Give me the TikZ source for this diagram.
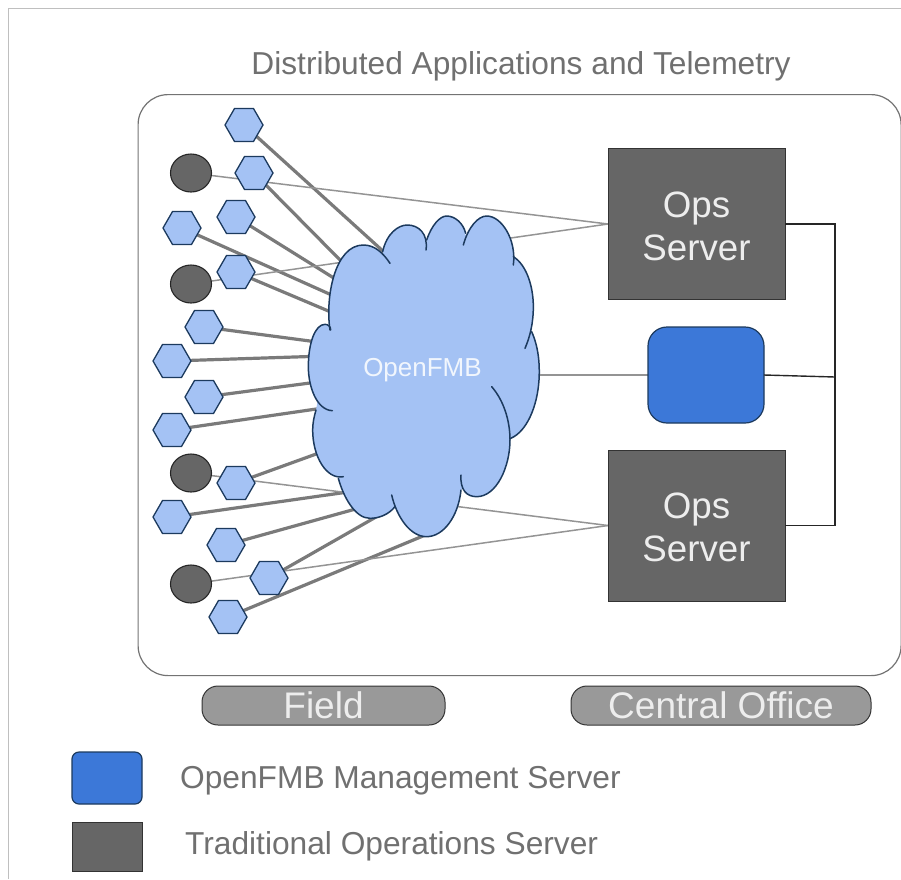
\documentclass[tikz,border=0pt]{standalone}
\usepackage{fontspec}
\setmainfont{Liberation Sans}
\usetikzlibrary{shapes.geometric,positioning}
\pgfdeclarelayer{background}
\pgfsetlayers{background,main}
\definecolor{hexfill}{HTML}{A4C2F4}
\definecolor{hexedge}{HTML}{1C3A5E}
\definecolor{darksrv}{HTML}{666666}
\definecolor{blusrv}{HTML}{3C78D8}
\definecolor{pillfill}{HTML}{999999}
\definecolor{txtgray}{HTML}{707070}
\tikzset{
  hexnode/.style={regular polygon,regular polygon sides=6,minimum size=38pt,inner sep=0pt,outer sep=0pt,fill=hexfill,draw=hexedge,line width=1.3pt},
  dotnode/.style={ellipse,minimum width=41pt,minimum height=38pt,inner sep=0pt,outer sep=0pt,fill=darksrv,draw=black!85,line width=1.1pt},
  opsbox/.style={rectangle,minimum width=177pt,minimum height=151pt,inner sep=0pt,outer sep=0pt,fill=darksrv,draw=black!80,line width=.8pt},
  opstext/.style={text=white!93!black,align=center,inner sep=0pt,font=\fontsize{36.7}{43}\selectfont},
  pillbox/.style={rectangle,rounded corners=16pt,minimum height=39pt,inner sep=0pt,outer sep=0pt,fill=pillfill,draw=black!80,line width=1pt,text=white!93!black,font=\fontsize{37}{40}\selectfont},
  thickline/.style={draw=black!52,line width=3.2pt},
  thinline/.style={draw=black!42,line width=1.5pt},
  busline/.style={draw=black!85,line width=1.4pt},
  graytext/.style={text=txtgray,font=\fontsize{31.7}{36}\selectfont,inner sep=0pt,anchor=west},
  cloudedge/.style={draw=hexedge,line width=1.5pt,line cap=round}
}
\newcommand{\cloudlobes}{%
 \cloudlobe{(90,420) .. controls (75,320) and (105,165) .. (190,165) .. controls (225,165) and (250,190) .. (270,220)}%
 \cloudlobe{(248,185) .. controls (260,130) and (295,105) .. (322,105) .. controls (355,105) and (385,130) .. (378,180)}%
 \cloudlobe{(380,150) .. controls (395,105) and (420,78) .. (440,78) .. controls (465,78) and (490,100) .. (497,130)}%
 \cloudlobe{(490,165) .. controls (505,110) and (535,78) .. (560,78) .. controls (605,78) and (650,150) .. (640,225)}%
 \cloudlobe{(640,200) .. controls (680,225) and (700,290) .. (700,350) .. controls (700,400) and (690,440) .. (675,475)}%
 \cloudlobe{(695,425) .. controls (715,470) and (720,520) .. (717,570) .. controls (712,650) and (680,725) .. (632,745)}%
 \cloudlobe{(575,590) .. controls (610,630) and (630,690) .. (630,750) .. controls (630,830) and (590,920) .. (530,920) .. controls (500,920) and (480,900) .. (483,855)}%
 \cloudlobe{(483,900) .. controls (475,980) and (430,1040) .. (380,1040) .. controls (330,1040) and (290,980) .. (275,915)}%
 \cloudlobe{(285,950) .. controls (265,975) and (235,985) .. (210,985) .. controls (165,985) and (130,920) .. (115,865)}%
 \cloudlobe{(130,860) .. controls (80,870) and (38,800) .. (38,720) .. controls (38,700) and (42,680) .. (48,660)}%
 \cloudlobe{(97,662) .. controls (50,660) and (25,590) .. (25,530) .. controls (25,460) and (45,403) .. (75,403) .. controls (85,403) and (92,410) .. (92,420)}%
}
\newcommand{\cloudlobe}[1]{}
\begin{document}
\begin{tikzpicture}[x=1pt,y=-1pt]
\useasboundingbox (0,0) rectangle (901,879);

% outer frame and panel
\coordinate (frameA) at (901,8);
\coordinate (frameB) at (8,8);
\coordinate (frameC) at (8,879);
\draw[black!25,line width=1pt] (frameA) -- (frameB) -- (frameC);
\node[rectangle,rounded corners=30pt,minimum width=763pt,minimum height=581pt,inner sep=0pt,draw=black!55,line width=1.2pt,anchor=north west] (panel) at (137.5,94) {};

\node[text=txtgray,font=\fontsize{31.7}{36}\selectfont,inner sep=0pt] (title) at (521,66) {Distributed Applications and Telemetry};

% servers
\node[opsbox] (ops1) at (696.5,224) {};
\node[opsbox] (ops2) at (696.5,525.5) {};
\node[opstext] (ops1t) at (696.5,226) {Ops\\Server};
\node[opstext] (ops2t) at (696.5,527.5) {Ops\\Server};
\node[rectangle,rounded corners=19pt,minimum width=116pt,minimum height=96pt,inner sep=0pt,outer sep=0pt,fill=blusrv,draw=hexedge,line width=1.2pt] (mgmt) at (706,375) {};

% field devices
\node[hexnode] (h1) at (244,125) {};
\node[hexnode] (h2) at (254,173) {};
\node[hexnode] (h3) at (236,217) {};
\node[hexnode] (h4) at (182,228) {};
\node[hexnode] (h5) at (236,272) {};
\node[hexnode] (h6) at (204,327) {};
\node[hexnode] (h7) at (172,361) {};
\node[hexnode] (h8) at (204,397) {};
\node[hexnode] (h9) at (172,430) {};
\node[hexnode] (h10) at (236,483) {};
\node[hexnode] (h11) at (172,517) {};
\node[hexnode] (h12) at (226,545) {};
\node[hexnode] (h13) at (269,578) {};
\node[hexnode] (h14) at (228,617) {};
\node[dotnode] (c1) at (191,173) {};
\node[dotnode] (c2) at (191,284) {};
\node[dotnode] (c3) at (191,473) {};
\node[dotnode] (c4) at (191,584) {};

% cloud
\begin{scope}[shift={(300,190)},x=0.33333pt,y=-0.33333pt]
\renewcommand{\cloudlobe}[1]{\fill[hexfill] #1 -- (370,560) -- cycle;}
\cloudlobes
\fill[hexfill] (92,420) -- (250,190) -- (380,160) -- (495,135) -- (640,205) -- (695,425) -- (632,745) -- (483,900) -- (285,950) -- (120,862) -- (48,660) -- cycle;
\renewcommand{\cloudlobe}[1]{\draw[cloudedge] #1;}
\cloudlobes
\end{scope}
\node[text=white!85!hexfill,font=\fontsize{26}{30}\selectfont,inner sep=0pt] (cloud) at (422.5,370) {OpenFMB};

% hidden ends of the connectors, inside the cloud
\coordinate (e1) at (395,262);
\coordinate (e2) at (345,265);
\coordinate (e3) at (345,285);
\coordinate (e4) at (345,301);
\coordinate (e5) at (345,318);
\coordinate (e6) at (325,343);
\coordinate (e7) at (325,356);
\coordinate (e8) at (325,381);
\coordinate (e9) at (330,407);
\coordinate (e10) at (330,449);
\coordinate (e11) at (355,491);
\coordinate (e12) at (370,505);
\coordinate (e13) at (390,509);
\coordinate (e14) at (435,531);
\coordinate (cloudE) at (530,375);
\coordinate (bus1) at (835,224);
\coordinate (bus2) at (835,525.5);
\coordinate (junc) at (835,377);

\begin{pgfonlayer}{background}
\foreach \i in {1,...,14} {\draw[thickline] (h\i) -- (e\i);}
\draw[thinline] (c1.center) -- (ops1.west);
\draw[thinline] (c2.center) -- (ops1.west);
\draw[thinline] (c3.center) -- (ops2.west);
\draw[thinline] (c4.center) -- (ops2.west);
\draw[thinline] (cloudE) -- (mgmt.west);
\end{pgfonlayer}
\draw[busline] (ops1.east) -- (bus1) -- (bus2) -- (ops2.east);
\draw[busline] (mgmt.east) -- (junc);

% zone labels
\node[pillbox,minimum width=243pt] (field) at (323.5,705.5) {Field};
\node[pillbox,minimum width=300pt] (office) at (721,705.5) {Central Office};

% legend
\node[rectangle,rounded corners=7pt,minimum width=70pt,minimum height=52pt,inner sep=0pt,fill=blusrv,draw=hexedge,line width=1.2pt] (legA) at (107,778) {};
\node[rectangle,minimum width=70pt,minimum height=49pt,inner sep=0pt,fill=darksrv,draw=black!80,line width=1pt] (legB) at (107,847) {};
\node[graytext] (legAt) at (180,781) {OpenFMB Management Server};
\node[graytext] (legBt) at (185,846) {Traditional Operations Server};
\end{tikzpicture}
\end{document}
